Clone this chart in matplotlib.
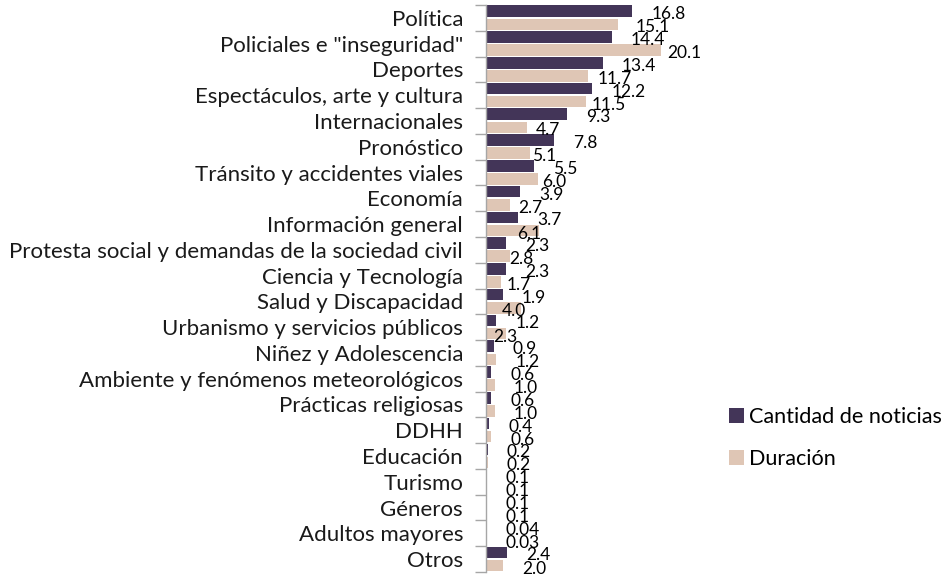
import matplotlib
matplotlib.use("Agg")
import matplotlib.pyplot as plt
import matplotlib.transforms as mtransforms
import numpy as np

categories = ["Política", "Policiales e \"inseguridad\"", "Deportes",
              "Espectáculos, arte y cultura", "Internacionales", "Pronóstico",
              "Tránsito y accidentes viales", "Economía", "Información general",
              "Protesta social y demandas de la sociedad civil",
              "Ciencia y Tecnología", "Salud y Discapacidad",
              "Urbanismo y servicios públicos", "Niñez y Adolescencia",
              "Ambiente y fenómenos meteorológicos", "Prácticas religiosas",
              "DDHH", "Educación", "Turismo", "Géneros", "Adultos mayores", "Otros"]
noticias = [16.8, 14.4, 13.4, 12.2, 9.3, 7.8, 5.5, 3.9, 3.7, 2.3, 2.3, 1.9,
            1.2, 0.9, 0.6, 0.6, 0.4, 0.2, 0.1, 0.1, 0.04, 2.4]
duracion = [15.1, 20.1, 11.7, 11.5, 4.7, 5.1, 6.0, 2.7, 6.1, 2.8, 1.7, 4.0,
            2.3, 1.2, 1.0, 1.0, 0.6, 0.2, 0.1, 0.1, 0.03, 2.0]
series_names = ["Cantidad de noticias", "Duración"]

# label nudges (pixels) for the Duración labels, as placed in the original
dur_nudge = [-1, -13, -9, -14, -10, -17, -15, -10, -41, -20, -13, -38, -32,
             0, 0, 0, 0, 0, 0, 0, 0, 0]

FONT = "Lato"
plt.rcParams["font.family"] = [FONT, "DejaVu Sans"]
DARK = "#433558"
BEIGE = "#dfc6b5"
AXC = "#a6a6a6"

fig = plt.figure(figsize=(9.48, 5.75), dpi=100)
ax = fig.add_axes([486/948, 1-572/575, (704-486)/948, (572-5)/575])

y = np.arange(len(categories))
h = 0.45
b1 = ax.barh(y - 0.26, noticias, height=h, color=DARK, label=series_names[0])
b2 = ax.barh(y + 0.25, duracion, height=h, color=BEIGE, label=series_names[1])

def fmt(v):
    return f"{v:.1f}" if v >= 0.1 else f"{v:.2f}"

LFS = 12.5
for yi, v in zip(y, noticias):
    ax.annotate(fmt(v), (v, yi - 0.26), xytext=(19, -3), textcoords="offset pixels",
                ha="left", va="center", fontsize=LFS, color="#000000")
for yi, v, nd in zip(y, duracion, dur_nudge):
    ax.annotate(fmt(v), (v, yi + 0.25), xytext=(19 + nd, -3), textcoords="offset pixels",
                ha="left", va="center", fontsize=LFS, color="#000000")

ax.set_xlim(0, 25)
ax.set_ylim(len(categories) - 0.5, -0.5)
ax.set_xticks([])
ax.set_yticks(y)
ax.set_yticklabels(categories, fontsize=16, color="#1a1a1a")
shift = mtransforms.ScaledTranslation(0, -2/100, fig.dpi_scale_trans)
for t in ax.get_yticklabels():
    t.set_transform(t.get_transform() + shift)
ax.tick_params(axis="y", which="major", length=0, pad=16.5)
ax.set_yticks(np.arange(-0.5, len(categories) + 0.5, 1), minor=True)
ax.tick_params(axis="y", which="minor", length=8, color=AXC, width=1)
for s in ["top", "right", "bottom"]:
    ax.spines[s].set_visible(False)
ax.spines["left"].set_color(AXC)
ax.spines["left"].set_linewidth(1)

fig.legend(handles=[b1, b2], loc="center left", bbox_to_anchor=(729/948, 1-438/575),
           frameon=False, fontsize=15.6, handlelength=0.69, handleheight=0.69,
           handletextpad=0.25, labelspacing=1.0, borderaxespad=0, borderpad=0)

fig.savefig("out.png", dpi=100)
